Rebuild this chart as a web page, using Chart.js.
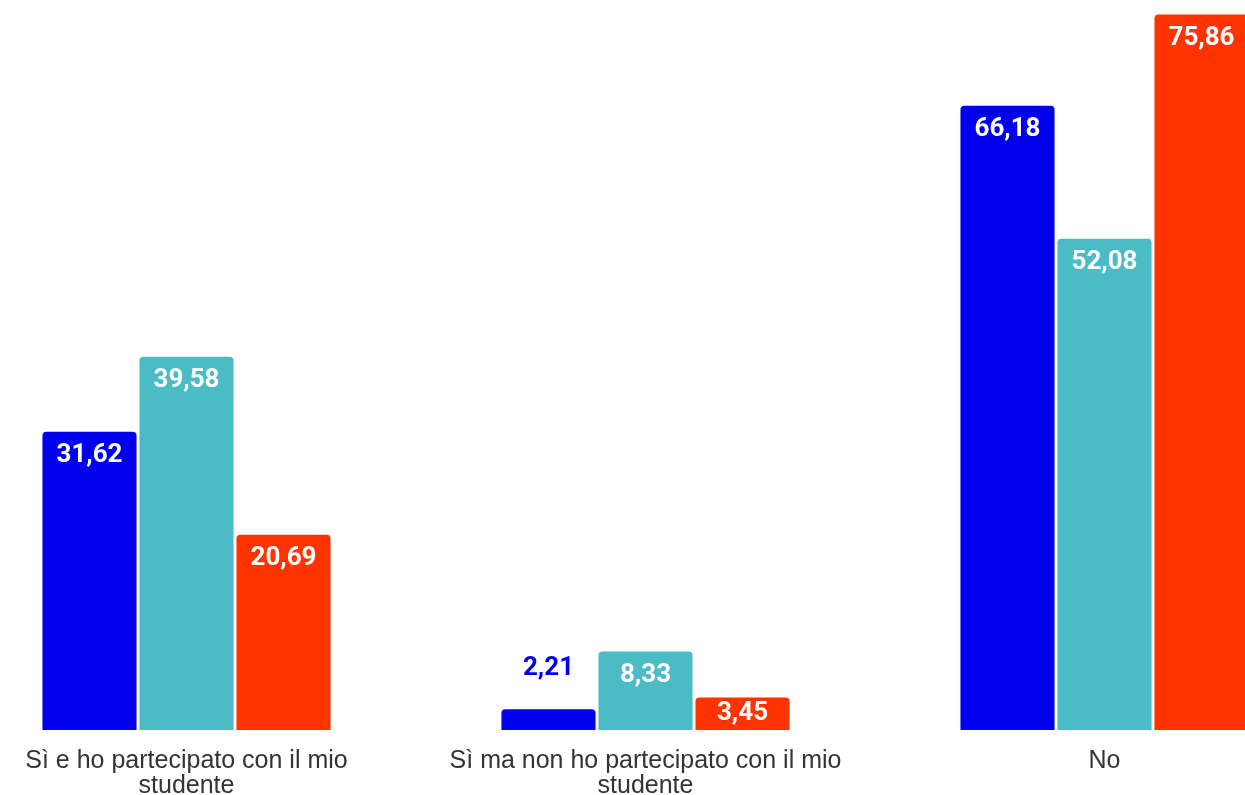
<!DOCTYPE html>
<html>
<head>
<meta charset="utf-8">
<script src="https://cdn.jsdelivr.net/npm/chart.js@4/dist/chart.umd.min.js"></script>
<style>
  html, body { margin: 0; padding: 0; background: #fff; overflow: hidden; }
  #wrap { position: absolute; left: -43px; top: 0; width: 1377px; height: 818px; }
</style>
</head>
<body>
<div id="wrap"><canvas id="chart"></canvas></div>
<script>
// categories and series
const categories = [
    ['Sì e ho partecipato con il mio', 'studente'],
    ['Sì ma non ho partecipato con il mio', 'studente'],
    'No'
];
const serie1 = [31.62, 2.21, 66.18];
const serie2 = [39.58, 8.33, 52.08];
const serie3 = [20.69, 3.45, 75.86];
const colori = ['#0000ee', '#4bbbc6', '#ff3300'];

// labels on bars (no datalabels plugin here)
const barLabels = {
    id: 'barLabels',
    afterDatasetsDraw(chart) {
        const ctx = chart.ctx;
        ctx.save();
        ctx.font = 'bold 26px Roboto';
        ctx.textAlign = 'center';
        ctx.textBaseline = 'middle';
        chart.data.datasets.forEach((ds, i) => {
            chart.getDatasetMeta(i).data.forEach((bar, j) => {
                const txt = ds.data[j].toFixed(2).replace('.', ',');
                const h = bar.base - bar.y;
                let y;
                if (h < 28) {
                    ctx.fillStyle = ds.backgroundColor;
                    y = bar.y - 41;
                } else {
                    ctx.fillStyle = '#fff';
                    y = Math.min(bar.y + 24, (bar.y + bar.base) / 2);
                }
                ctx.fillText(txt, bar.x, y);
            });
        });
        ctx.restore();
    }
};

new Chart(document.querySelector('#chart'), {
    type: 'bar',
    data: {
        labels: categories,
        datasets: [
            { label: 'A', data: serie1, backgroundColor: colori[0] },
            { label: 'B', data: serie2, backgroundColor: colori[1] },
            { label: 'C', data: serie3, backgroundColor: colori[2] }
        ]
    },
    options: {
        responsive: true,
        maintainAspectRatio: false,
        animation: false,
        layout: { padding: 0 },
        datasets: {
            bar: {
                categoryPercentage: 0.634,
                barPercentage: 0.97,
                borderRadius: { topLeft: 4, topRight: 4 },
                borderSkipped: 'bottom'
            }
        },
        plugins: {
            legend: { display: false },
            tooltip: { enabled: false }
        },
        scales: {
            x: {
                grid: { display: false, drawTicks: false },
                border: { display: false },
                ticks: {
                    padding: 19,
                    color: '#333',
                    maxRotation: 0,
                    autoSkip: false,
                    font: { family: 'Liberation Sans', size: 25, lineHeight: 1.0 }
                }
            },
            y: {
                display: false,
                min: 0,
                max: 77.4
            }
        }
    },
    plugins: [barLabels]
});
</script>
</body>
</html>
